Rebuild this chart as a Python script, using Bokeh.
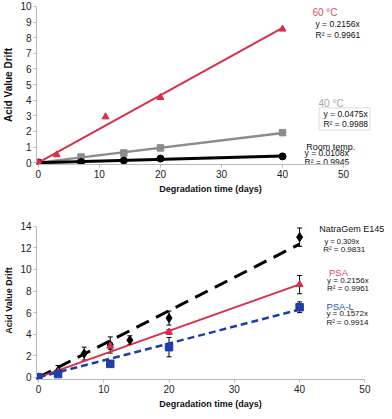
from bokeh.plotting import figure
from bokeh.layouts import column
from bokeh.models import Range1d, FixedTicker, Whisker, TeeHead, ColumnDataSource, BoxAnnotation
from bokeh.core.properties import value
from bokeh.embed import file_html
from bokeh.resources import INLINE

FONT = "Liberation Sans"

# ---------- top chart data ----------
t60_days = [0, 3, 11, 20, 40]
t60_vals = [0, 0.5, 2.93, 4.17, 8.55]
t40_days = [0, 7, 14, 20, 40]
t40_vals = [0, 0.36, 0.62, 0.94, 1.92]
trt_days = [0, 7, 14, 20, 40]
trt_vals = [0, 0.04, 0.14, 0.26, 0.40]
top_slopes = {"60": 0.2156, "40": 0.0475, "rt": 0.0108}
top_x_ticks = [0, 10, 20, 30, 40, 50]
top_y_ticks = list(range(0, 11))

# ---------- bottom chart data ----------
ng_days = [0, 3, 7, 11, 14, 20, 40]
ng_vals = [0, 0.6, 2.2, 3.0, 3.45, 5.5, 13.0]
ng_err = [0, 0.5, 0.6, 0.75, 0.4, 0.65, 0.85]
psa_days = [0, 3, 11, 20, 40]
psa_vals = [0, 0.5, 2.9, 4.2, 8.6]
psa_err = [0, 0.1, 0.3, 0.2, 0.85]
psal_days = [0, 3, 11, 20, 40]
psal_vals = [0, 0.3, 1.25, 2.8, 6.5]
psal_err = [0, 0.1, 0.1, 0.9, 0.5]
bot_slopes = {"ng": 0.309, "psa": 0.2156, "psal": 0.1572}
bot_x_ticks = [0, 10, 20, 30, 40, 50]
bot_y_ticks = list(range(0, 15, 2))

trend_x = [0, 40]

RED = "#d6304c"
GRAY = "#8a8d8d"
BLUE = "#1f3fa6"


def style(p, xb, yb, xt, yt, ylab_size, xlab_size):
    p.xgrid.visible = False
    p.ygrid.visible = False
    p.outline_line_color = None
    p.xaxis.bounds = xb
    p.yaxis.bounds = yb
    p.xaxis.ticker = FixedTicker(ticks=xt)
    p.yaxis.ticker = FixedTicker(ticks=yt)
    p.xaxis.minor_tick_line_color = None
    p.yaxis.minor_tick_line_color = None
    for ax in (p.xaxis, p.yaxis):
        ax.axis_line_color = "#b8bcbc"
        ax.major_tick_line_color = "#b8bcbc"
        ax.major_tick_in = 0
        ax.major_tick_out = 3
        ax.major_label_text_font = FONT
        ax.major_label_text_font_size = "10px"
        ax.major_label_text_color = "#222222"
        ax.axis_label_text_font = FONT
        ax.axis_label_text_font_style = "bold"
        ax.axis_label_text_color = "#111111"
        ax.major_label_standoff = 2
        ax.axis_label_standoff = 3
    p.xaxis.axis_label_text_font_size = xlab_size
    p.yaxis.axis_label_text_font_size = ylab_size
    p.xaxis.axis_label = "Degradation time (days)"
    p.yaxis.axis_label = "Acid Value Drift"


def txt(p, x, y, s, color="#111111", size="8.5px"):
    p.text(x=[x], y=[y], text=[s], text_color=color, text_font=value(FONT),
           text_font_size=size, text_align="left", text_baseline="middle")


# ---------- top figure ----------
p1 = figure(width=384, height=196, output_backend="svg", toolbar_location=None,
            x_range=Range1d(-0.3, 56.7), y_range=Range1d(-0.12, 10.06),
            min_border_left=29, min_border_right=0, min_border_top=5, min_border_bottom=26)
style(p1, (0, 50), (0, 10), top_x_ticks, top_y_ticks, "10px", "9px")

p1.line(trend_x, [top_slopes["40"] * v for v in trend_x], line_color=GRAY, line_width=2.5)
p1.square(t40_days, t40_vals, size=6.5, color=GRAY)
p1.line(trend_x, [top_slopes["rt"] * v for v in trend_x], line_color="black", line_width=3)
p1.scatter(trt_days, trt_vals, size=7, color="black")
p1.line(trend_x, [top_slopes["60"] * v for v in trend_x], line_color=RED, line_width=2)
p1.scatter(t60_days, t60_vals, marker="triangle", size=7, color=RED)

txt(p1, 44.9, 9.64, "60 °C", "#d9506a", "10px")
txt(p1, 45.4, 8.86, "y = 0.2156x")
txt(p1, 45.4, 8.19, "R² = 0.9961")
txt(p1, 45.9, 3.80, "40 °C", "#a3aaaa", "10px")
txt(p1, 46.7, 3.13, "y = 0.0475x")
txt(p1, 46.7, 2.47, "R² = 0.9988")
p1.add_layout(BoxAnnotation(left=46.0, right=54.3, bottom=2.08, top=3.5,
                            fill_alpha=0, line_color="#a0a4a4", line_width=1.2))
txt(p1, 43.9, 0.99, "Room temp.", "#111111", "9px")
txt(p1, 43.6, 0.62, "y = 0.0108x")
txt(p1, 43.6, 0.04, "R² = 0.9945")

# ---------- bottom figure ----------
p2 = figure(width=384, height=215, output_backend="svg", toolbar_location=None,
            x_range=Range1d(-0.3, 53.0), y_range=Range1d(-0.2, 14.45),
            min_border_left=29, min_border_right=0, min_border_top=25, min_border_bottom=25)
style(p2, (0, 50), (0, 14), bot_x_ticks, bot_y_ticks, "9px", "9px")

for days, vals, err in ((ng_days, ng_vals, ng_err), (psa_days, psa_vals, psa_err),
                        (psal_days, psal_vals, psal_err)):
    src = ColumnDataSource(dict(x=days, up=[v + e for v, e in zip(vals, err)],
                                lo=[v - e for v, e in zip(vals, err)]))
    p2.add_layout(Whisker(source=src, base="x", upper="up", lower="lo",
                          line_color="black", line_width=1,
                          upper_head=TeeHead(size=5, line_color="black", line_width=1),
                          lower_head=TeeHead(size=5, line_color="black", line_width=1)))

p2.line(trend_x, [bot_slopes["ng"] * v for v in trend_x], line_color="black",
        line_width=3, line_dash="14 8")
p2.line(trend_x, [bot_slopes["psa"] * v for v in trend_x], line_color=RED, line_width=2)
p2.line(trend_x, [bot_slopes["psal"] * v for v in trend_x], line_color=BLUE,
        line_width=2.5, line_dash="7 4")
p2.scatter(ng_days, ng_vals, marker="diamond", size=9, color="black")
p2.scatter(psa_days, psa_vals, marker="triangle", size=7, color=RED)
p2.square(psal_days, psal_vals, size=7.5, color=BLUE)

txt(p2, 43.0, 13.8, "NatraGem E145", "#111111", "9px")
txt(p2, 43.8, 12.6, "y = 0.309x", "#111111", "7.5px")
txt(p2, 43.6, 11.85, "R² = 0.9831", "#111111", "8px")
txt(p2, 44.5, 9.7, "PSA", "#e0466a", "9.5px")
txt(p2, 44.2, 9.0, "y = 0.2156x", "#111111", "8px")
txt(p2, 44.2, 8.2, "R² = 0.9961", "#111111", "8px")
txt(p2, 44.1, 6.6, "PSA-L", "#2f55a4", "9.5px")
txt(p2, 44.1, 5.9, "y = 0.1572x", "#111111", "8px")
txt(p2, 44.1, 5.05, "R² = 0.9914", "#111111", "8px")

layout = column(p1, p2, spacing=0)
open("out.html", "w").write(file_html(layout, INLINE))
